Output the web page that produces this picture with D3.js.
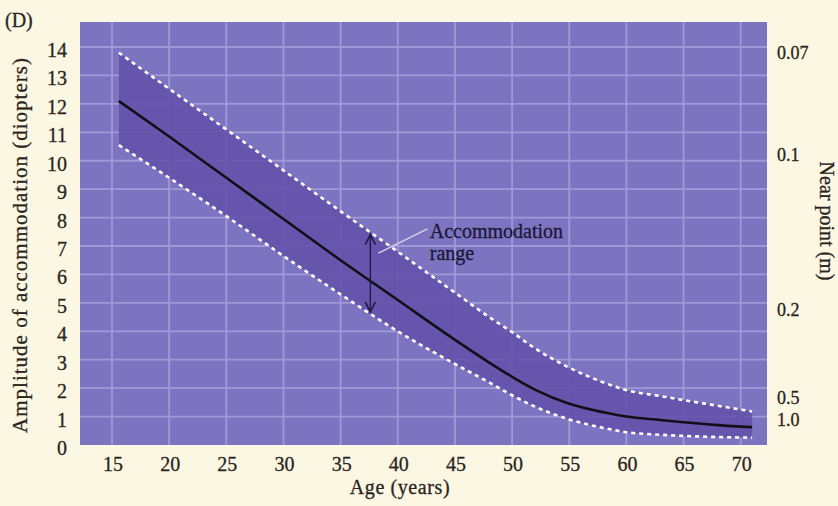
<!DOCTYPE html>
<html>
<head>
<meta charset="utf-8">
<script src="https://cdn.jsdelivr.net/npm/d3@7"></script>
<style>
  body { margin: 0; background: #fcf7e3; }
  svg text { font-family: "Liberation Serif", "DejaVu Serif", serif; fill: #2a2420; stroke: #2a2420; stroke-width: 0.3px; }
</style>
</head>
<body>
<svg id="chart"></svg>
<script>
const size = {w: 838, h: 506};
const plot = {l: 80, r: 767, t: 22, b: 445};

// ages (years) and amplitude of accommodation (diopters)
const ages     = [15.6, 20, 25, 30, 35, 40, 45, 48, 50, 52, 55, 58, 60, 63, 65, 68, 71];
const meanAmp  = [12.1, 10.85, 9.4, 7.95, 6.5, 5.1, 3.7, 2.9, 2.4, 1.95, 1.45, 1.15, 1.0, 0.88, 0.8, 0.7, 0.63];
const upperAmp = [13.8, 12.53, 11.1, 9.66, 8.22, 6.8, 5.36, 4.5, 3.97, 3.4, 2.72, 2.2, 1.93, 1.72, 1.58, 1.38, 1.18];
const lowerAmp = [10.55, 9.4, 8.05, 6.65, 5.3, 4.0, 2.85, 2.2, 1.75, 1.35, 0.9, 0.6, 0.45, 0.36, 0.32, 0.28, 0.26];

// tick labels
const xTicks = [15, 20, 25, 30, 35, 40, 45, 50, 55, 60, 65, 70];
const yTicks = d3.range(0, 15);
const nearPointLabels = ['0.07', '0.1', '0.2', '0.5', '1.0'];
const nearPointPos = [13.8, 10.2, 4.75, 1.65, 0.88]; // in diopters, where the labels sit

// annotation (data units)
const arrowAge = 37.6, arrowTop = 7.4, arrowBottom = 4.68;

const svg = d3.select('svg#chart')
    .attr('width', size.w)
    .attr('height', size.h);

const x = d3.scaleLinear().domain([12.2, 72.3]).range([plot.l, plot.r]);
const y = d3.scaleLinear().domain([0, 14.88]).range([plot.b, plot.t]);

// panel background
svg.append('rect')
    .attr('x', plot.l).attr('y', plot.t)
    .attr('width', plot.r - plot.l).attr('height', plot.b - plot.t)
    .attr('fill', '#7d74c1');

// grid
const grid = svg.append('g').attr('stroke', '#a9a3dc').attr('stroke-width', 1.8).attr('opacity', 0.8);
grid.selectAll('line.v')
    .data(xTicks)
    .join('line')
    .attr('x1', d => x(d)).attr('x2', d => x(d))
    .attr('y1', plot.t).attr('y2', plot.b);
grid.selectAll('line.h')
    .data(yTicks.filter(d => d > 0))
    .join('line')
    .attr('x1', plot.l).attr('x2', plot.r)
    .attr('y1', d => y(d)).attr('y2', d => y(d));

// band between upper and lower limits
const rows = ages.map((a, i) => ({age: a, mean: meanAmp[i], hi: upperAmp[i], lo: lowerAmp[i]}));

svg.append('path')
    .datum(rows)
    .attr('fill', '#6452ab')
    .attr('opacity', 0.92)
    .attr('d', d3.area()
        .curve(d3.curveMonotoneX)
        .x(d => x(d.age))
        .y0(d => y(d.lo))
        .y1(d => y(d.hi)));

// dashed limits
const line = key => d3.line().curve(d3.curveMonotoneX).x(d => x(d.age)).y(d => y(d[key]));
['hi', 'lo'].forEach(key => {
    svg.append('path')
        .datum(rows)
        .attr('fill', 'none')
        .attr('stroke', '#ffffff')
        .attr('stroke-width', 2.6)
        .attr('stroke-dasharray', '4 4')
        .attr('d', line(key));
});

// mean curve
svg.append('path')
    .datum(rows)
    .attr('fill', 'none')
    .attr('stroke', '#111018')
    .attr('stroke-width', 2.6)
    .attr('d', line('mean'));

// accommodation range arrow
svg.append('defs').append('marker')
    .attr('id', 'head')
    .attr('viewBox', '0 0 10 10')
    .attr('refX', 9).attr('refY', 5)
    .attr('markerWidth', 9).attr('markerHeight', 9)
    .attr('orient', 'auto-start-reverse')
    .append('path')
    .attr('d', 'M1,1 L9,5 L1,9')
    .attr('fill', 'none')
    .attr('stroke', '#241c44')
    .attr('stroke-width', 1.3);

svg.append('line')
    .attr('x1', x(arrowAge)).attr('x2', x(arrowAge))
    .attr('y1', y(arrowBottom)).attr('y2', y(arrowTop))
    .attr('stroke', '#241c44')
    .attr('stroke-width', 1.4)
    .attr('marker-start', 'url(#head)')
    .attr('marker-end', 'url(#head)');

// leader line to label
svg.append('line')
    .attr('x1', x(38.3)).attr('y1', y(6.75))
    .attr('x2', x(42.6)).attr('y2', y(7.6))
    .attr('stroke', '#d6d2e8')
    .attr('stroke-width', 1.5);

const note = svg.append('text')
    .attr('x', x(42.8))
    .attr('y', y(7.28))
    .attr('font-size', 20)
    .style('fill', '#1c1836')
    .style('stroke', '#1c1836');
note.append('tspan').text('Accommodation');
note.append('tspan').attr('x', x(42.8)).attr('dy', 22).text('range');

// left axis labels
svg.append('g')
    .selectAll('text')
    .data(yTicks)
    .join('text')
    .attr('x', 67)
    .attr('y', d => y(d) + 3)
    .attr('dy', '0.35em')
    .attr('text-anchor', 'end')
    .attr('font-size', 20)
    .text(d => d);

// bottom axis labels
svg.append('g')
    .selectAll('text')
    .data(xTicks)
    .join('text')
    .attr('x', d => x(d) + 1)
    .attr('y', 471)
    .attr('text-anchor', 'middle')
    .attr('font-size', 20)
    .text(d => d);

// right axis labels (near point)
svg.append('g')
    .selectAll('text')
    .data(nearPointLabels)
    .join('text')
    .attr('x', 777)
    .attr('y', (d, i) => y(nearPointPos[i]))
    .attr('dy', '0.35em')
    .attr('font-size', 18)
    .text(d => d);

// titles
svg.append('text')
    .attr('x', 400).attr('y', 494)
    .attr('text-anchor', 'middle')
    .attr('font-size', 20)
    .attr('letter-spacing', 0.6)
    .text('Age (years)');

svg.append('text')
    .attr('transform', `translate(27, 245) rotate(-90)`)
    .attr('text-anchor', 'middle')
    .attr('font-size', 21)
    .attr('letter-spacing', 1)
    .text('Amplitude of accommodation (diopters)');

svg.append('text')
    .attr('transform', `translate(820, 221) rotate(90)`)
    .attr('text-anchor', 'middle')
    .attr('font-size', 20)
    .text('Near point (m)');

svg.append('text')
    .attr('x', 5).attr('y', 27)
    .attr('font-size', 20)
    .text('(D)');
</script>
</body>
</html>
